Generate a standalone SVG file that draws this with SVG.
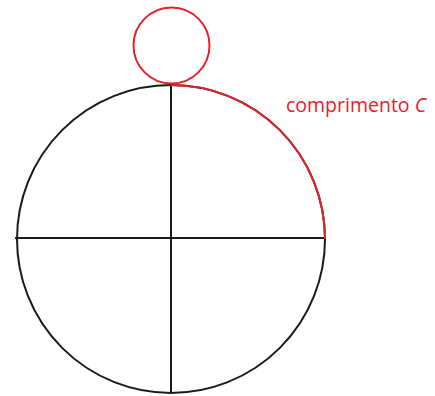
<svg xmlns="http://www.w3.org/2000/svg" width="435" height="396" viewBox="0 0 435 396">
<style>
.blk{fill:none;stroke:#1a1a1a;stroke-width:2}
.red{fill:none;stroke:#e3232c;stroke-width:2}
.lbl{font-family:"Open Sans","Liberation Sans",sans-serif;font-size:19.5px;fill:#e3232c}
</style>
<rect width="435" height="396" fill="#ffffff"/>
<g id="big-circle">
<circle class="blk" cx="171" cy="239" r="154"/>
</g>
<g id="connectors">
<line class="blk" x1="15" y1="238" x2="326" y2="238"/>
<line class="blk" x1="171" y1="85" x2="171" y2="393"/>
</g>
<g id="arc">
<path class="red" d="M171 85 A154 154 0 0 1 325 239"/>
</g>
<g id="small-circle">
<circle class="red" cx="171.5" cy="45.5" r="38"/>
</g>
<g id="label">
<text class="lbl" x="286" y="112">comprimento <tspan font-style="italic">C</tspan></text>
</g>
</svg>
